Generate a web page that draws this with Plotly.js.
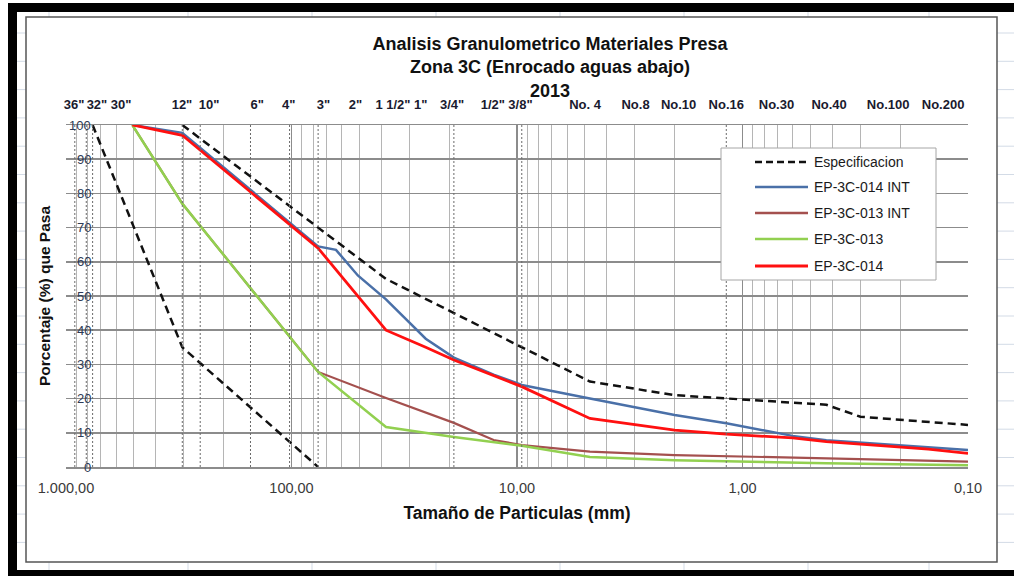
<!DOCTYPE html>
<html><head><meta charset="utf-8">
<script src="https://cdn.plot.ly/plotly-3.0.1.min.js"></script>
<style>html,body{margin:0;padding:0;background:#fff;} #chart{width:1014px;height:576px;}</style>
</head><body><div id="chart"></div>
<script>
// ---- data ----
const seriesNames = ['Especificacion', 'EP-3C-014 INT', 'EP-3C-013 INT', 'EP-3C-013', 'EP-3C-014'];

const specUpperSize = [305, 38.1, 4.75, 2.0, 0.425, 0.3, 0.1];
const specUpperPct  = [100, 55, 25, 21, 18.2, 14.7, 12.3];
const specLowerSize = [762, 305, 76.2];
const specLowerPct  = [100, 35, 0];

const ep014IntSize = [508, 305, 76.2, 63.5, 50.8, 38.1, 25.4, 19.05, 12.7, 9.525, 4.75, 2.0, 1.18, 0.6, 0.425, 0.15, 0.1];
const ep014IntPct  = [100, 97.7, 64.5, 63.5, 56, 49, 37.5, 32, 27, 24, 20, 15.2, 12.8, 9.1, 7.8, 5.8, 5.0];

const ep013IntSize = [508, 305, 76.2, 38.1, 19.05, 12.7, 9.525, 4.75, 2.0, 0.425, 0.1];
const ep013IntPct  = [100, 77, 27.8, 20.2, 12.9, 7.9, 6.4, 4.5, 3.5, 2.5, 1.6];

const ep013Size = [508, 305, 76.2, 38.1, 19.05, 9.525, 4.75, 2.0, 0.425, 0.1];
const ep013Pct  = [100, 77, 27.8, 11.7, 8.8, 6.2, 2.9, 2.0, 1.1, 0.5];

const ep014Size = [508, 305, 76.2, 38.1, 25.4, 19.05, 9.525, 4.75, 2.0, 1.18, 0.6, 0.425, 0.15, 0.1];
const ep014Pct  = [100, 97, 64, 40, 35, 31.3, 23.5, 14.2, 10.8, 9.6, 8.5, 7.4, 5.2, 4.0];

// sieve reference lines (dotted)
const sieveDotted = [914, 813, 762, 305, 254, 152, 102, 76.2, 19.05, 9.525, 1.18];

// top sieve labels
const topLabels = ['36"', '32"', '30"', '12"', '10"', '6"', '4"', '3"', '2"', '1 1/2"', '1"', '3/4"', '1/2"', '3/8"',
                   'No. 4', 'No.8', 'No.10', 'No.16', 'No.30', 'No.40', 'No.100', 'No.200'];
const topLabelPos = [921, 729, 570, 306, 232, 142, 103, 72.1, 52.0, 35.5, 26.7, 19.4, 12.8, 9.65,
                     4.99, 2.98, 1.92, 1.18, 0.707, 0.413, 0.226, 0.129];

const xTickVals = [1000, 100, 10, 1, 0.1];
const xTickText = ['1.000,00', '100,00', '10,00', '1,00', '0,10'];
const yTickVals = [0, 10, 20, 30, 40, 50, 60, 70, 80, 90, 100];
const yTickText = ['0', '10', '20', '30', '40', '50', '60', '70', '80', '90', '100'];

const decades = [100, 10, 1, 0.1];
const minorDigits = [2, 3, 4, 5, 6, 7, 8, 9];

// ---- styles ----
const SANS = 'Liberation Sans, Arial, sans-serif';
const colors = ['#111111', '#4a70a8', '#a4504e', '#92d050', '#ff1010'];
const widths = [2.5, 2.5, 2.2, 2.5, 2.8];
const SPEC_DASH = '8px,5px';

// plot area in pixels
const L = 66, R = 968, T = 125, B = 467;
const px = x => (x - L) / (R - L);
const py = y => (B - y) / (B - T);

// vertical dotted sieve lines as one trace
const sx = [], sy = [];
sieveDotted.forEach(s => { sx.push(s, s, null); sy.push(0, 100, null); });

const minorVals = [];
decades.forEach(d => minorDigits.forEach(m => minorVals.push(m * d)));

const traces = [
  {x: sx, y: sy, xaxis: 'x2', yaxis: 'y', mode: 'lines', line: {color: '#6a6a6a', width: 1, dash: '2px,2px'},
   hoverinfo: 'skip', showlegend: false},
  {x: specUpperSize, y: specUpperPct, mode: 'lines', name: seriesNames[0],
   line: {color: colors[0], width: widths[0], dash: SPEC_DASH}},
  {x: specLowerSize, y: specLowerPct, mode: 'lines', name: seriesNames[0], showlegend: false,
   line: {color: colors[0], width: widths[0], dash: SPEC_DASH}},
  {x: ep014IntSize, y: ep014IntPct, mode: 'lines', name: seriesNames[1], line: {color: colors[1], width: widths[1]}},
  {x: ep013IntSize, y: ep013IntPct, mode: 'lines', name: seriesNames[2], line: {color: colors[2], width: widths[2]}},
  {x: ep013Size, y: ep013Pct, mode: 'lines', name: seriesNames[3], line: {color: colors[3], width: widths[3]}},
  {x: ep014Size, y: ep014Pct, mode: 'lines', name: seriesNames[4], line: {color: colors[4], width: widths[4]}}
];

const shapes = [];
const rectPx = (x0, y0, x1, y1, fill, line) => shapes.push({type: 'rect', xref: 'paper', yref: 'paper', layer: 'above',
  x0: px(x0), x1: px(x1), y0: py(y0), y1: py(y1), fillcolor: fill, line: line || {width: 0}});
const linePx = (x0, y0, x1, y1, line) => shapes.push({type: 'line', xref: 'paper', yref: 'paper', layer: 'above',
  x0: px(x0), x1: px(x1), y0: py(y0), y1: py(y1), line: line});

// spreadsheet cell grid stubs around the chart object
const GRID = {color: '#d3dbe6', width: 1};
for (let k = 0; k < 19; k++) {
  const y = 33 + 28.3 * k;
  linePx(17, y, 26, y, GRID);
  linePx(997, y, 1014, y, GRID);
}
[49, 188, 312, 436, 560, 684, 808, 929].forEach(x => {
  linePx(x, 12, x, 17, GRID);
  linePx(x, 562, x, 570, GRID);
});
// chart object frame
rectPx(26, 17, 997, 562, 'rgba(0,0,0,0)', {color: '#555555', width: 1.5});
// black border bands
rectPx(8, 3, 17, 576, '#000000');
rectPx(8, 3, 1014, 12, '#000000');
rectPx(8, 570, 1014, 576, '#000000');

// manual legend
rectPx(721, 148, 936, 280, '#ffffff', {color: '#a6a6a6', width: 1});
const legY = [162, 187, 213, 239, 266];
const annotations = [];
seriesNames.forEach((n, i) => {
  linePx(755, legY[i], 808, legY[i], {color: colors[i], width: i === 0 ? 2.5 : (i === 4 ? 3 : 2.5), dash: i === 0 ? '7px,4px' : 'solid'});
  annotations.push({xref: 'paper', yref: 'paper', x: px(812), y: py(legY[i]), xanchor: 'left', yanchor: 'middle',
    text: n, showarrow: false, font: {family: SANS, size: 14, color: '#1a1a1a'}});
});

// y tick labels drawn inside the plot edge
yTickVals.forEach((v, i) => {
  annotations.push({xref: 'paper', yref: 'y', x: px(93), y: v, xanchor: 'right', yanchor: 'middle',
    text: yTickText[i], showarrow: false, font: {family: SANS, size: 13, color: '#2d3a55'}});
});

const layout = {
  width: 1014, height: 576,
  margin: {l: L, r: 1014 - R, t: T, b: 576 - B},
  paper_bgcolor: '#ffffff', plot_bgcolor: '#ffffff',
  showlegend: false,
  title: {
    text: 'Analisis Granulometrico Materiales Presa<br>Zona 3C (Enrocado aguas abajo)<br>2013',
    xref: 'container', yref: 'container', x: 550 / 1014, xanchor: 'center', y: 1 - 50 / 576, yanchor: 'top',
    font: {family: SANS, size: 18, weight: 700, color: '#111111'}
  },
  xaxis: {
    type: 'log', range: [3, -1], autorange: false,
    tickmode: 'array', tickvals: xTickVals, ticktext: xTickText, tickangle: 0,
    ticks: 'outside', ticklen: 7, tickcolor: 'rgba(0,0,0,0)',
    tickfont: {family: SANS, size: 14.5, color: '#3a3a3a'},
    showgrid: true, gridcolor: '#8c8c8c', gridwidth: 1.5,
    minor: {tickmode: 'array', tickvals: minorVals, showgrid: true, gridcolor: '#b5b5b5', gridwidth: 1, ticks: ''},
    showline: true, linecolor: '#8c8c8c', linewidth: 1.5, mirror: true, zeroline: false,
    title: {text: 'Tamaño de Particulas (mm)', standoff: 12,
            font: {family: SANS, size: 17.5, weight: 700, color: '#111111'}}
  },
  xaxis2: {
    type: 'log', range: [3, -1], autorange: false, overlaying: 'x', side: 'top',
    tickmode: 'array', tickvals: topLabelPos, ticktext: topLabels, tickangle: 0,
    ticks: 'outside', ticklen: 10, tickcolor: 'rgba(0,0,0,0)',
    tickfont: {family: SANS, size: 13, weight: 700, color: '#1a1a2e'},
    showgrid: false, showline: false, zeroline: false
  },
  yaxis: {
    range: [0, 100], autorange: false, tickmode: 'array', tickvals: yTickVals,
    showticklabels: false, ticks: '',
    showgrid: true, gridcolor: '#8c8c8c', gridwidth: 1.5, zeroline: false,
    title: {text: 'Porcentaje (%) que Pasa', standoff: 10,
            font: {family: SANS, size: 15.5, weight: 700, color: '#111111'}}
  },
  shapes: shapes,
  annotations: annotations
};

Plotly.newPlot('chart', traces, layout, {displayModeBar: false, staticPlot: true});
</script>
</body></html>
